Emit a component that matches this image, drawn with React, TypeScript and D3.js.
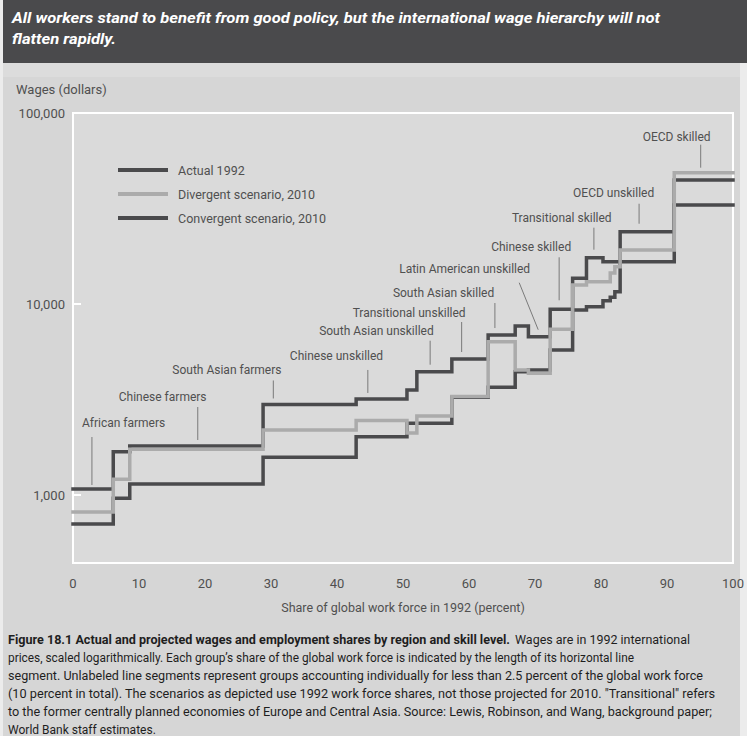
import React from "react";
import * as d3 from "d3";

// ---------- data ----------
const titleLines = [
  "All workers stand to benefit from good policy, but the international wage hierarchy will not",
  "flatten rapidly.",
];
const groupNames = [
  "African farmers", "", "Chinese farmers", "South Asian farmers", "Chinese unskilled", "",
  "South Asian unskilled", "Transitional unskilled", "South Asian skilled", "",
  "Latin American unskilled", "Chinese skilled", "", "Transitional skilled", "", "", "",
  "OECD unskilled", "OECD skilled",
];
// share of global work force 1992 (percent)
const shares = [6.1, 2.5, 20.2, 14.1, 7.7, 1.5, 5.3, 5.5, 4.1, 2.0, 3.3, 3.4, 2.1, 2.5, 1.1, 0.7, 0.8, 8.2, 8.9];
// wages (1992 international dollars)
const actual1992 = [705, 961, 1142, 1576, 2020, 2373, 2373, 3247, 3663, 4421, 4513, 5744, 9303, 9680, 10400, 10840, 11600, 16650, 32980];
const divergent2010 = [815, 1208, 1735, 2189, 2455, 2111, 2592, 3279, 6345, 4513, 4337, 7372, 12580, 13090, 13090, 14530, 15680, 19170, 48690];
const convergent2010 = [1075, 1685, 1805, 2978, 3182, 3545, 4421, 5152, 6880, 7669, 6741, 9383, 13630, 17480, 16650, 16650, 16650, 23900, 44590];
const seriesNames = ["Actual 1992", "Divergent scenario, 2010", "Convergent scenario, 2010"];
const xTicks = [0, 10, 20, 30, 40, 50, 60, 70, 80, 90, 100];
const yTicks = [1000, 10000, 100000];
const yTickLabels = ["1,000", "10,000", "100,000"];
const yTitle = "Wages (dollars)";
const xTitle = "Share of global work force in 1992 (percent)";
const captionBold = "Figure 18.1  Actual and projected wages and employment shares by region and skill level.";
const captionLines = [
  "Wages are in 1992 international",
  "prices, scaled logarithmically.  Each group\u2019s share of the global work force is indicated by the length of its horizontal line",
  "segment. Unlabeled line segments represent groups accounting individually for less than 2.5 percent of the global work force",
  "(10 percent in total). The scenarios as depicted use 1992 work force shares, not those projected for 2010. \"Transitional\" refers",
  "to the former centrally planned economies of Europe and Central Asia. Source: Lewis, Robinson, and Wang, background paper;",
  "World Bank staff estimates.",
];

// ---------- layout ----------
const W = 747, H = 736;
const PL = 73, PR = 733, PT = 113, PB = 563;
const DARK = "#4a4a4c";
const LIGHT = "#ababab";
const TXT = "#505050";
const FONT = "Roboto, 'Liberation Sans', sans-serif";

const x = d3.scaleLinear().domain([0, 100]).range([PL, PR]);
const y = d3.scaleLog().domain([1000, 100000]).range([495, PT]);

const starts = Array.from(d3.cumsum([0, ...shares]));

function stepPoints(vals: number[]): [number, number][] {
  const pts: [number, number][] = vals.map((v, i) => [starts[i], v]);
  pts.push([100, vals[vals.length - 1]]);
  return pts;
}
const stepLine = d3.line<[number, number]>().x((d) => x(d[0])).y((d) => y(d[1])).curve(d3.curveStepAfter);

// label placement: group index, position within group, gap above top line, leader length, slant, text offsets
const labelPlacements = [
  { g: 0, frac: 0.47, gap: 4, len: 48, slant: 0, tdx: -10, tdy: -10 },
  { g: 2, frac: 0.51, gap: 6, len: 33, slant: 0, tdx: -79, tdy: -6 },
  { g: 3, frac: 0.11, gap: 6, len: 18, slant: 0, tdx: -101, tdy: -6 },
  { g: 4, frac: 0.23, gap: 6, len: 23, slant: 0, tdx: -78, tdy: -10 },
  { g: 6, frac: 0.38, gap: 7, len: 24, slant: 0, tdx: -111, tdy: -6 },
  { g: 7, frac: 0.27, gap: 7, len: 30, slant: 0, tdx: -109, tdy: -5 },
  { g: 8, frac: 0.25, gap: 7, len: 25, slant: 0, tdx: -102, tdy: -6 },
  { g: 10, frac: 0.45, gap: 7, len: 47, slant: -19, tdx: -120, tdy: -10 },
  { g: 11, frac: 0.4, gap: 9, len: 43, slant: 0, tdx: -68, tdy: -6 },
  { g: 13, frac: 0.45, gap: 8, len: 22, slant: 0, tdx: -82, tdy: -6 },
  { g: 17, frac: 0.35, gap: 8, len: 20, slant: 0, tdx: -66, tdy: -7 },
  { g: 18, frac: 0.45, gap: 5, len: 23, slant: 0, tdx: -58, tdy: -4 },
];

export default function App() {
  const series = [
    { name: seriesNames[0], vals: actual1992, color: DARK },
    { name: seriesNames[2], vals: convergent2010, color: DARK },
    { name: seriesNames[1], vals: divergent2010, color: LIGHT },
  ];
  const legend = [
    { name: seriesNames[0], color: DARK },
    { name: seriesNames[1], color: LIGHT },
    { name: seriesNames[2], color: DARK },
  ];
  const capLens = [626, 695, 707, 704, 0];
  return (
    <svg width={W} height={H} style={{ position: "absolute", left: 0, top: 0 }} fontFamily={FONT}>
      <rect x={0} y={0} width={W} height={H} fill="#ececec" />
      <rect x={3} y={0} width={737} height={H} fill="#d6d6d6" />
      <rect x={3} y={0} width={744} height={63} fill="#4a4a4c" />
      <rect x={3} y={63} width={737} height={14} fill="#dcdcdc" />
      {titleLines.map((t, i) => (
        <text key={i} x={12} y={23 + i * 21} fill="#ffffff" fontSize={15} fontWeight="bold" fontStyle="italic"
          textLength={i === 0 ? 648 : 104} lengthAdjust="spacingAndGlyphs">{t}</text>
      ))}

      {/* plot frame */}
      <rect x={PL} y={PT} width={PR - PL} height={PB - PT} fill="#dadada" stroke="#ffffff" strokeWidth={2} />
      {yTicks.map((t) => (
        <line key={t} x1={PL} x2={PL + 8} y1={y(t)} y2={y(t)} stroke="#ffffff" strokeWidth={2} />
      ))}

      {/* axis labels */}
      <text x={16} y={94} fontSize={13} fill={TXT}>{yTitle}</text>
      {yTicks.map((t, i) => (
        <text key={t} x={65} y={y(t) + 5} fontSize={13} fill={TXT} textAnchor="end">{yTickLabels[i]}</text>
      ))}
      {xTicks.map((t) => (
        <text key={t} x={x(t)} y={588} fontSize={13} fill={TXT} textAnchor="middle">{t}</text>
      ))}
      <text x={x(50)} y={612} fontSize={12.5} fill={TXT} textAnchor="middle">{xTitle}</text>

      {/* legend */}
      {legend.map((l, i) => (
        <g key={l.name}>
          <line x1={118} x2={168} y1={170 + i * 24} y2={170 + i * 24} stroke={l.color} strokeWidth={4} />
          <text x={178} y={174.5 + i * 24} fontSize={12.5} fill={TXT}>{l.name}</text>
        </g>
      ))}

      {/* step lines */}
      {series.map((s) => (
        <path key={s.name} d={stepLine(stepPoints(s.vals)) || ""} fill="none" stroke={s.color}
          strokeWidth={3.5} strokeLinejoin="miter" strokeLinecap="square" />
      ))}

      {/* group labels */}
      {labelPlacements.map((p) => {
        const top = Math.max(actual1992[p.g], divergent2010[p.g], convergent2010[p.g]);
        const bx = x(starts[p.g] + shares[p.g] * p.frac);
        const by = y(top) - p.gap;
        const tx = bx + p.slant;
        const ty = by - p.len;
        return (
          <g key={p.g}>
            <line x1={bx} y1={by} x2={tx} y2={ty} stroke="#7a7a7a" strokeWidth={1} />
            <text x={tx + p.tdx} y={ty + p.tdy} fontSize={12} fill={TXT}>{groupNames[p.g]}</text>
          </g>
        );
      })}

      {/* caption */}
      <text x={8} y={644} fontSize={12} fill="#1e1e1e" fontWeight="bold"
        textLength={502} lengthAdjust="spacingAndGlyphs">{captionBold}</text>
      <text x={515} y={644} fontSize={12} fill="#1e1e1e" textLength={175} lengthAdjust="spacingAndGlyphs">{captionLines[0]}</text>
      {captionLines.slice(1).map((c, i) => (
        <text key={i} x={8} y={644 + (i + 1) * 17.9} fontSize={12} fill="#1e1e1e"
          {...(capLens[i] ? { textLength: capLens[i], lengthAdjust: "spacingAndGlyphs" } : {})}>{c}</text>
      ))}
    </svg>
  );
}
